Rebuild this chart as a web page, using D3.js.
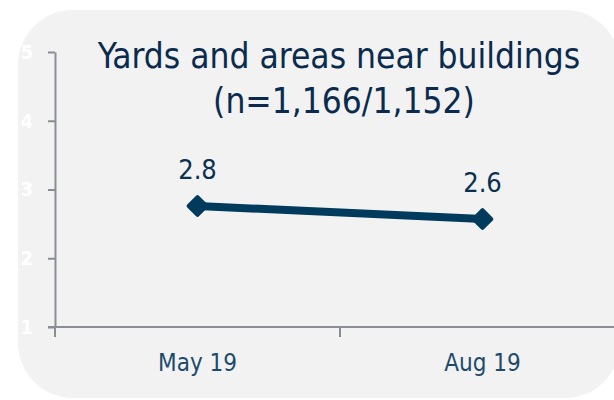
<!DOCTYPE html>
<html>
<head>
<meta charset="utf-8">
<script src="https://cdn.jsdelivr.net/npm/d3@7"></script>
<style>
  body { margin: 0; background: #fff; }
  svg { display: block; font-family: "DejaVu Sans Condensed", "DejaVu Sans", sans-serif; }
</style>
</head>
<body>
<svg id="chart" width="614" height="400"></svg>
<script>
// data
const categories = ["May 19", "Aug 19"];
const values = [2.76, 2.57];
const valueLabels = ["2.8", "2.6"];
const yTicks = [1, 2, 3, 4, 5];
const titleLines = ["Yards and areas near buildings", "(n=1,166/1,152)"];

const FONT = "DejaVu Sans Condensed, DejaVu Sans, sans-serif";
const svg = d3.select("#chart");

// rounded background panel
svg.append("rect")
    .attr("x", 18).attr("y", 10)
    .attr("width", 602).attr("height", 388)
    .attr("rx", 55).attr("ry", 55)
    .attr("fill", "#f2f2f2");

const x = d3.scaleBand()
    .domain(categories)
    .range([55, 625]);

const y = d3.scaleLinear()
    .domain([1, 5])
    .range([327, 52]);

// y axis
const yAxis = svg.append("g")
    .attr("transform", "translate(55,0)")
    .call(d3.axisLeft(y).tickValues(yTicks).tickFormat(d3.format("d"))
        .tickSize(7).tickSizeOuter(0).tickPadding(15));
yAxis.selectAll("line, path").attr("stroke", "#8a8d96").attr("stroke-width", 2);
yAxis.selectAll("text")
    .attr("fill", "#ffffff")
    .attr("font-size", 20)
    .attr("font-weight", "bold")
    .attr("font-family", FONT);

// x axis
const xAxis = svg.append("g")
    .attr("transform", "translate(0,327)")
    .call(d3.axisBottom(x).tickSize(0).tickSizeOuter(0).tickPadding(27));
xAxis.select(".domain").attr("d", "M48,0H640").attr("stroke", "#8a8d96").attr("stroke-width", 2);
xAxis.selectAll("text")
    .attr("fill", "#1d4a6b")
    .attr("font-size", 24)
    .attr("font-family", FONT);
// tick marks at band boundaries
xAxis.selectAll(".sep")
    .data(categories)
    .enter().append("line")
    .attr("x1", d => x(d)).attr("x2", d => x(d))
    .attr("y1", 0).attr("y2", 10)
    .attr("stroke", "#8a8d96").attr("stroke-width", 2);

const cx = d => x(d) + x.bandwidth() / 2;
const pts = categories.map((c, i) => ({ c, v: values[i], label: valueLabels[i] }));

// line
svg.append("path")
    .datum(pts)
    .attr("fill", "none")
    .attr("stroke", "#003a5c")
    .attr("stroke-width", 8)
    .attr("d", d3.line().x(d => cx(d.c)).y(d => y(d.v)));

// diamond markers
svg.selectAll(".marker")
    .data(pts)
    .enter().append("path")
    .attr("class", "marker")
    .attr("transform", d => `translate(${cx(d.c)},${y(d.v)})`)
    .attr("d", d3.symbol(d3.symbolDiamond2, 200)())
    .attr("fill", "#003a5c")
    .attr("stroke", "#003a5c")
    .attr("stroke-width", 4)
    .attr("stroke-linejoin", "round");

// value labels
svg.selectAll(".vlabel")
    .data(pts)
    .enter().append("text")
    .attr("x", d => cx(d.c))
    .attr("y", d => y(d.v) - 27)
    .attr("text-anchor", "middle")
    .attr("font-size", 27)
    .attr("fill", "#0a3150")
    .text(d => d.label);

// title
svg.selectAll(".title")
    .data(titleLines)
    .enter().append("text")
    .attr("x", (d, i) => i === 0 ? 339 : 344)
    .attr("y", (d, i) => 68 + i * 45)
    .attr("text-anchor", "middle")
    .attr("font-size", 35)
    .attr("fill", "#0a2b4e")
    .text(d => d);
</script>
</body>
</html>
